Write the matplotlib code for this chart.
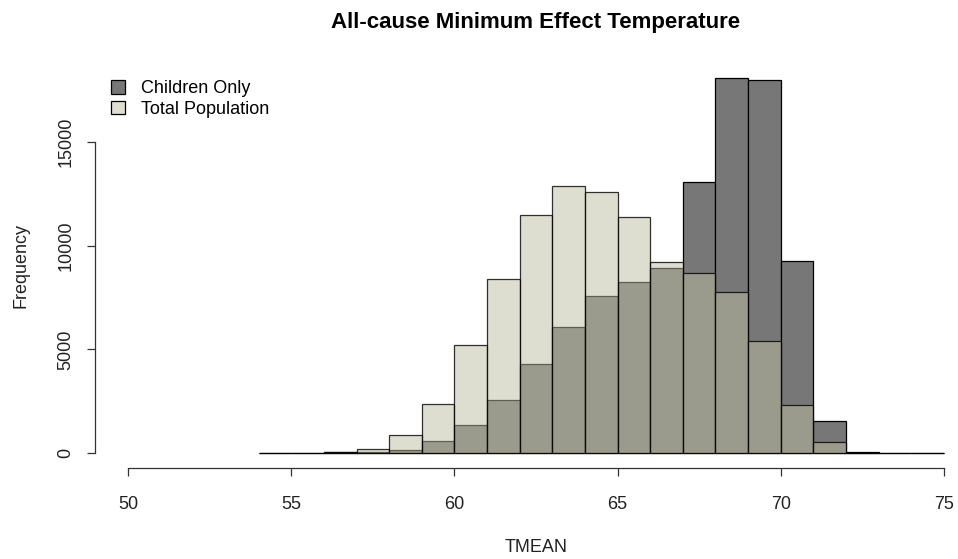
import matplotlib
matplotlib.use("Agg")
import matplotlib.pyplot as plt
from matplotlib.patches import Patch

plt.rcParams['font.family'] = ['Liberation Sans', 'DejaVu Sans']

# Histogram bin edges (1-degree bins) and counts per bin
bin_left = list(range(54, 75))
children_counts = [0, 0, 30, 50, 130, 590, 1330, 2550, 4280, 6060, 7550,
                   8270, 8940, 13060, 18090, 17980, 9280, 1540, 40, 0, 0]
total_counts = [0, 0, 40, 180, 850, 2370, 5210, 8410, 11500, 12870, 12580,
                11380, 9230, 8700, 7770, 5400, 2320, 540, 0, 0, 0]

x_ticks = [50, 55, 60, 65, 70, 75]
y_ticks = [0, 5000, 10000, 15000]

fig = plt.figure(figsize=(9.58, 5.59), dpi=100)
ax = fig.add_axes([0.0996, 0.1628, 0.9198, 0.7245])

children_col = '#777777'
total_rgba = (189 / 255, 191 / 255, 161 / 255, 0.5)

ax.bar(bin_left, children_counts, width=1, align='edge',
       facecolor=children_col, edgecolor='black', linewidth=0.9, zorder=2)
ax.bar(bin_left, total_counts, width=1, align='edge',
       facecolor=total_rgba, edgecolor=(0, 0, 0, 0.8), linewidth=0.9, zorder=3)

ymax = max(max(children_counts), max(total_counts))
ax.set_xlim(49, 76)
ax.set_ylim(-0.04 * ymax, 1.04 * ymax)

for s in ['top', 'right']:
    ax.spines[s].set_visible(False)
ax.spines['left'].set_bounds(0, 15000)
ax.spines['bottom'].set_bounds(50, 75)
for s in ['left', 'bottom']:
    ax.spines[s].set_color('#333333')
    ax.spines[s].set_linewidth(0.9)

ax.set_xticks(x_ticks)
ax.set_yticks(y_ticks)
ax.set_yticklabels([str(v) for v in y_ticks], rotation=90, va='center')
ax.tick_params(axis='both', direction='out', length=6, width=0.9,
               color='#333333', labelsize=13, labelcolor='#222222')
ax.tick_params(axis='x', pad=14)
ax.tick_params(axis='y', pad=9)

ax.set_xlabel('TMEAN', fontsize=13, color='#222222', labelpad=19)
ax.set_ylabel('Frequency', fontsize=13, color='#222222', labelpad=20)
ax.set_title('All-cause Minimum Effect Temperature', fontsize=16,
             fontweight='bold', pad=25)

handles = [Patch(facecolor=children_col, edgecolor='black', linewidth=0.9),
           Patch(facecolor=(222 / 255, 223 / 255, 208 / 255), edgecolor='black', linewidth=0.9)]
ax.legend(handles, ['Children Only', 'Total Population'], loc='upper left',
          bbox_to_anchor=(0.01, 0.975), frameon=False, fontsize=13,
          handlelength=0.75, handleheight=0.75, handletextpad=0.9,
          labelspacing=0.18, borderaxespad=0)

fig.savefig('out.png', dpi=100)
